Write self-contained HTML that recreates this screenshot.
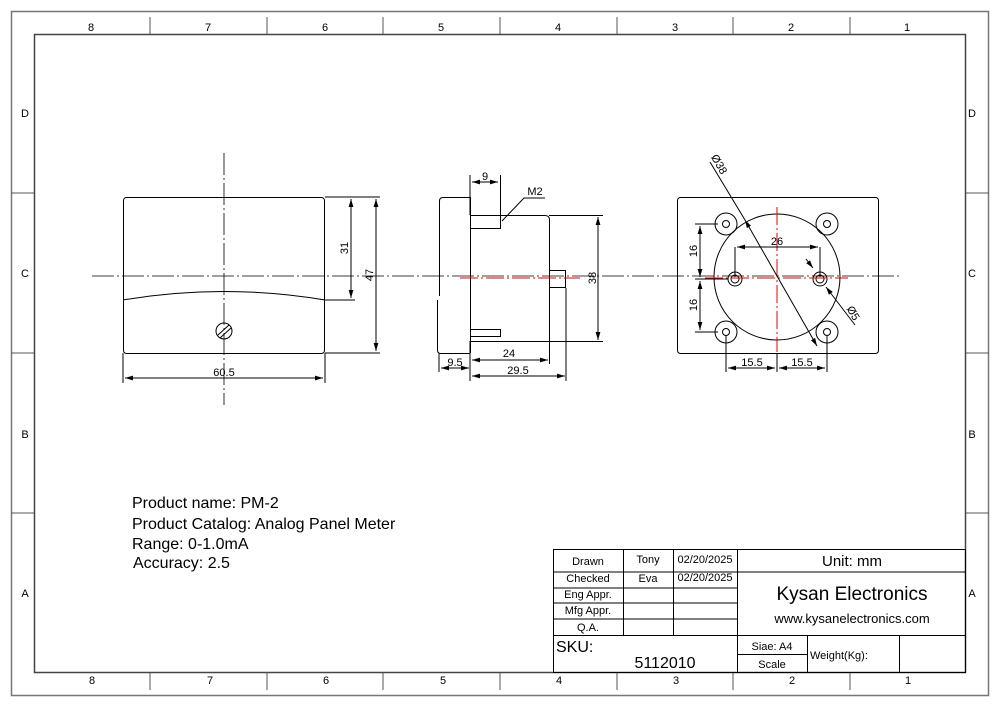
<!DOCTYPE html>
<html><head><meta charset="utf-8"><style>
html,body{margin:0;padding:0;background:#fff;}
svg{display:block;}
text{font-family:"Liberation Sans",Arial,sans-serif;fill:#000;}
</style></head><body>
<svg width="1000" height="707" viewBox="0 0 1000 707" xmlns="http://www.w3.org/2000/svg">
<defs>
<marker id="a" viewBox="0 0 10 10" refX="10" refY="5" markerWidth="8" markerHeight="8" orient="auto-start-reverse" markerUnits="userSpaceOnUse"><path d="M0,2 L10,5 L0,8 z" fill="#000"/></marker>
</defs>
<g fill="none" stroke="#000" stroke-width="1">
<rect x="11.5" y="11.5" width="977" height="684" stroke="#777" stroke-width="1.5"/>
<rect x="34.5" y="34.5" width="931" height="638" stroke="#444" stroke-width="1.5"/>
<g stroke="#555">
<path d="M150 17V34M267 17V34M383 17V34M500 17V34M617 17V34M733 17V34M850 17V34"/>
<path d="M150 673V690M267 673V690M383 673V690M500 673V690M617 673V690M733 673V690M850 673V690"/>
<path d="M11 193H34M11 353H34M11 513H34M966 193H989M966 353H989M966 513H989"/>
</g>
<path d="M92 276H900" stroke-dasharray="22 3 2 3" stroke-width="0.8"/>
<!-- LEFT VIEW -->
<rect x="123.5" y="197.5" width="201" height="156" rx="3"/>
<path d="M224 153V405" stroke-dasharray="22 3 2 3" stroke-width="0.8"/>
<path d="M123 300 Q224 283 325 300"/>
<circle cx="224" cy="331" r="8"/>
<path d="M218 335 L229 325 M220 338 L231 328"/>
<path d="M325 300H355"/>
<path d="M351 199V298" marker-start="url(#a)" marker-end="url(#a)"/>
<path d="M325 197H380M325 353H380"/>
<path d="M376 199V351" marker-start="url(#a)" marker-end="url(#a)"/>
<path d="M123 353V383M325 353V383"/>
<path d="M125 378H323" marker-start="url(#a)" marker-end="url(#a)"/>
<!-- SIDE VIEW -->
<path d="M470 197.5H443 Q439.5 197.5 439.5 201V296"/>
<path d="M437.5 300V350 Q437.5 353.5 441 353.5H470"/>
<path d="M470.5 197V353"/>
<path d="M470 215.5H545 Q549.5 215.5 549.5 220V341.5H470"/>
<rect x="549.5" y="270.5" width="16" height="17"/>
<path d="M470 228.5H500.5V215.5M470 329.5H500.5V336.5H470"/>
<path d="M460 278H580" stroke="#e00" stroke-dasharray="18 3 2 3" stroke-width="1"/>
<path d="M470 175V215M500.5 175V222"/>
<path d="M472 182H498" marker-start="url(#a)" marker-end="url(#a)"/>
<path d="M545 198H524L502 221"/>
<path d="M549 215.5H603M549 341.5H603"/>
<path d="M598 217V340" marker-start="url(#a)" marker-end="url(#a)"/>
<path d="M470 341V381M549.5 341V364M566 288V381M439 353V372"/>
<path d="M472 360H548" marker-start="url(#a)" marker-end="url(#a)"/>
<path d="M472 376H565" marker-start="url(#a)" marker-end="url(#a)"/>
<path d="M441 368H469" marker-start="url(#a)" marker-end="url(#a)"/>
<!-- RIGHT VIEW -->
<rect x="677.5" y="197.5" width="201" height="156" rx="3"/>
<circle cx="777" cy="277" r="63"/>
<circle cx="726" cy="224" r="11"/><circle cx="726" cy="224" r="3.5"/>
<circle cx="827" cy="224" r="11"/><circle cx="827" cy="224" r="3.5"/>
<circle cx="726" cy="332" r="11"/><circle cx="726" cy="332" r="3.5"/>
<circle cx="827" cy="332" r="11"/><circle cx="827" cy="332" r="3.5"/>
<circle cx="735" cy="279" r="7"/><circle cx="735" cy="279" r="4"/>
<circle cx="820" cy="279" r="7"/><circle cx="820" cy="279" r="4"/>
<path d="M705 278H848" stroke="#e00" stroke-dasharray="18 3 2 3"/>
<path d="M777 207V352" stroke="#e00" stroke-dasharray="18 3 2 3"/>
<path d="M735 247V277M820 247V277"/>
<path d="M737 247H818" marker-start="url(#a)" marker-end="url(#a)"/>
<path d="M695 224H718M695 279H728M695 332H718"/>
<path d="M700 226V277" marker-start="url(#a)" marker-end="url(#a)"/>
<path d="M700 281V330" marker-start="url(#a)" marker-end="url(#a)"/>
<path d="M726 335V372M777 353V372M827 335V372"/>
<path d="M728 368H775" marker-start="url(#a)" marker-end="url(#a)"/>
<path d="M779 368H825" marker-start="url(#a)" marker-end="url(#a)"/>
<path d="M710 162L745 220" />
<path d="M745 220L817 346" marker-start="url(#a)" marker-end="url(#a)"/>
<path d="M806 259L813 268" marker-end="url(#a)"/>
<path d="M826 287L855 325" marker-start="url(#a)"/>
<!-- TITLE BLOCK -->
<rect x="553.5" y="549.5" width="412" height="123"/>
<path d="M553 572H966M553 588H737M553 603H737M553 619H737M553 635.5H966"/>
<path d="M623.5 549V635M673.5 549V635M737.5 549V673M807.5 635V673M899.5 635V673M737 654.5H807"/>
</g>
<g font-size="11" text-anchor="middle">
<text x="91" y="31">8</text><text x="208" y="31">7</text><text x="325" y="31">6</text><text x="441" y="31">5</text><text x="558" y="31">4</text><text x="675" y="31">3</text><text x="791" y="31">2</text><text x="907" y="31">1</text>
<text x="92" y="684">8</text><text x="210" y="684">7</text><text x="326" y="684">6</text><text x="443" y="684">5</text><text x="559" y="684">4</text><text x="676" y="684">3</text><text x="792" y="684">2</text><text x="908" y="684">1</text>
<text x="25" y="117">D</text><text x="25" y="277">C</text><text x="25" y="438">B</text><text x="25" y="597">A</text>
<text x="972" y="117">D</text><text x="972" y="277">C</text><text x="972" y="438">B</text><text x="972" y="597">A</text>
</g>
<g font-size="11" text-anchor="middle">
<text x="224" y="376">60.5</text>
<text transform="translate(348,248) rotate(-90)">31</text>
<text transform="translate(373,275) rotate(-90)">47</text>
<text x="485" y="180">9</text>
<text x="535" y="195">M2</text>
<text transform="translate(596,278) rotate(-90)">38</text>
<text x="509" y="357">24</text>
<text x="518" y="374">29.5</text>
<text x="455" y="366">9.5</text>
<text x="777" y="245">26</text>
<text transform="translate(697,251) rotate(-90)">16</text>
<text transform="translate(697,305) rotate(-90)">16</text>
<text x="752" y="366">15.5</text>
<text x="802" y="366">15.5</text>
<text transform="translate(716,166) rotate(60)">Ø38</text>
<text transform="translate(850,315) rotate(60)">Ø5</text>
</g>
<g font-size="16">
<text x="132" y="508">Product name: PM-2</text>
<text x="132" y="529">Product Catalog: Analog Panel Meter</text>
<text x="132" y="549">Range: 0-1.0mA</text>
<text x="133" y="568">Accuracy: 2.5</text>
</g>
<g font-size="11" text-anchor="middle">
<text x="588" y="565">Drawn</text><text x="648" y="563">Tony</text><text x="705" y="563">02/20/2025</text>
<text x="588" y="582">Checked</text><text x="648" y="582">Eva</text><text x="705" y="581">02/20/2025</text>
<text x="588" y="598">Eng Appr.</text>
<text x="588" y="614">Mfg Appr.</text>
<text x="588" y="631">Q.A.</text>
<text x="772" y="650">Siae: A4</text>
<text x="772" y="668">Scale</text>
</g>
<text x="810" y="659" font-size="11">Weight(Kg):</text>
<text x="852" y="566" font-size="15" text-anchor="middle">Unit: mm</text>
<text x="852" y="600" font-size="19" text-anchor="middle">Kysan Electronics</text>
<text x="852" y="623" font-size="13" text-anchor="middle">www.kysanelectronics.com</text>
<text x="556" y="652" font-size="16">SKU:</text>
<text x="665" y="668" font-size="16" text-anchor="middle">5112010</text>
</svg>
</body></html>
